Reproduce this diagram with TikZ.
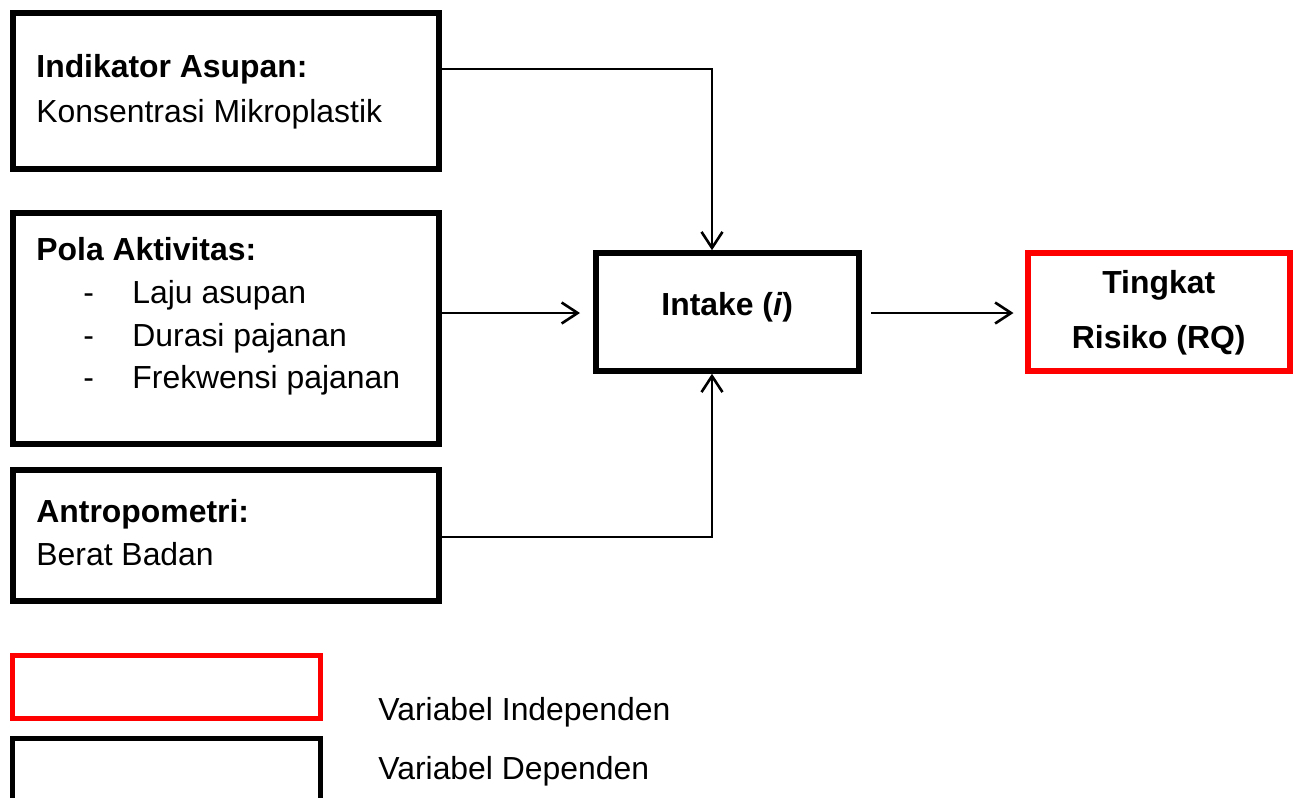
\documentclass[tikz,border=0pt]{standalone}
\usepackage{fontspec}
\setmainfont{Liberation Sans}
\usetikzlibrary{arrows.meta}
\definecolor{legred}{RGB}{255,0,0}
\tikzset{
  box/.style={draw=black, line width=3pt, inner sep=0pt, fill=white},
  redbox/.style={draw=legred, line width=3pt, inner sep=0pt, fill=white},
  txt/.style={anchor=base west, inner sep=0pt, font=\fontsize{15.95}{19}\selectfont},
  btxt/.style={anchor=base west, inner sep=0pt, font=\fontsize{15.95}{19}\selectfont\bfseries},
  ctxt/.style={anchor=base, inner sep=0pt, font=\fontsize{15.95}{19}\selectfont\bfseries},
  arr/.style={line width=1pt, -{Straight Barb[length=8pt,width=10.5pt,line width=1.3pt]}},
  ln/.style={line width=1pt}
}
\begin{document}
\begin{tikzpicture}[x=0.5pt,y=-0.5pt]
\clip (0,0) rectangle (1298,798);
\useasboundingbox (0,0) rectangle (1298,798);
% boxes
\node[box, minimum width=213pt, minimum height=78pt] (b1) at (226,91) {};
\node[box, minimum width=213pt, minimum height=115.5pt] (b2) at (226,328.5) {};
\node[box, minimum width=213pt, minimum height=65.5pt] (b3) at (226,535) {};
\node[box, minimum width=131.75pt, minimum height=58.75pt] (intake) at (727.25,312) {};
\node[redbox, minimum width=131.25pt, minimum height=59pt] (rq) at (1158.75,311.5) {};
% legend
\node[draw=legred, line width=2.5pt, inner sep=0pt, minimum width=154pt, minimum height=31.5pt] (legR) at (166,687) {};
\node[draw=black, line width=2.5pt, inner sep=0pt, minimum width=154pt, minimum height=31pt] (legB) at (166,769) {};
% texts
\node[btxt] (t1a) at (36,77) {Indikator Asupan:};
\node[txt] (t1b) at (36,122) {Konsentrasi Mikroplastik};
\node[btxt] (t2a) at (36,260) {Pola Aktivitas:};
\node[txt] (d1) at (83,303) {-};
\node[txt] (t2b) at (132,303) {Laju asupan};
\node[txt] (d2) at (83,346) {-};
\node[txt] (t2c) at (132,346) {Durasi pajanan};
\node[txt] (d3) at (83,388) {-};
\node[txt] (t2d) at (132,388) {Frekwensi pajanan};
\node[btxt] (t3a) at (36,522) {Antropometri:};
\node[txt] (t3b) at (36,565) {Berat Badan};
\node[ctxt] (ti) at (727.25,315) {Intake (\textit{i})};
\node[ctxt] (tr1) at (1158.75,293) {Tingkat};
\node[ctxt] (tr2) at (1158.75,348) {Risiko (RQ)};
\node[txt] (l1) at (378,720) {Variabel Independen};
\node[txt] (l2) at (378,779) {Variabel Dependen};
% connectors
\coordinate (c1) at (712,69);
\coordinate (c3) at (712,537);
\coordinate (m2) at (580,313);
\draw[arr] (b1.east |- c1) -| (intake.north -| c1);
\draw[arr] (b3.east |- c3) -| (intake.south -| c3);
\draw[arr] (b2.east |- m2) -- (m2);
\draw[arr, shorten <=4.5pt, shorten >=5.5pt] (intake.east |- m2) -- (rq.west |- m2);
\end{tikzpicture}
\end{document}
